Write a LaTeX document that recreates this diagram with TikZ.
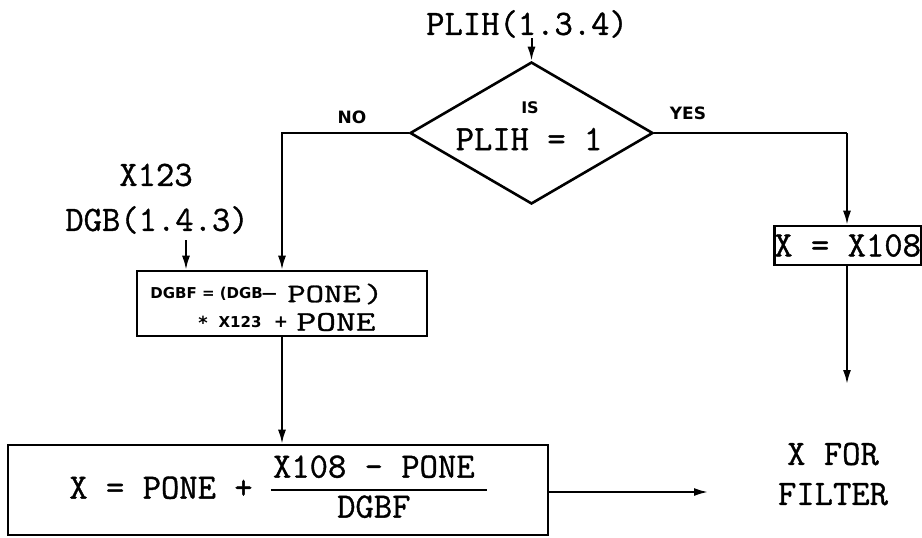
\documentclass[tikz,border=0pt]{standalone}
\usepackage{fontspec}
\usepackage{graphicx}
\usetikzlibrary{shapes.geometric,arrows.meta}
\newfontfamily\tw{Latin Modern Mono}[FakeBold=1]
\newfontfamily\lab{DejaVu Sans}
\tikzset{
  x={(0.5pt,0)}, y={(0,-0.5pt)},
  ln/.style={line width=1pt},
  arr/.style={ln,-{Latex[length=7pt,width=4pt]}},
  boxx/.style={draw,line width=1.3pt,inner sep=0pt},
  tt/.style={font=\tw\fontsize{17.8}{20}\selectfont,inner sep=0pt},
  lbl/.style={font=\lab\bfseries\fontsize{8.5}{10}\selectfont,inner sep=0pt},
  sml/.style={font=\lab\bfseries\fontsize{7}{8}\selectfont,inner sep=0pt},
}
\begin{document}
\begin{tikzpicture}
\clip (0,0) rectangle (922,537);
\fill[white] (0,0) rectangle (922,537);
% nodes
\node[tt] (plih) at (527,24) {PLIH(1.3.4)};
\node[draw,line width=1.3pt,shape=diamond,minimum width=121.5pt,minimum height=71pt,inner sep=0pt] (d) at (531.5,133) {};
\node[sml,font=\lab\bfseries\fontsize{8}{9}\selectfont] (is) at (530,108) {IS};
\node[tt] (cond) at (529,139) {PLIH = 1};
\node[lbl] (no) at (352,117) {NO};
\node[lbl] (yes) at (688,113) {YES};
\node[tt] (x123) at (156,175) {X123};
\node[tt] (dgb) at (157,220) {DGB(1.4.3)};
\node[boxx,minimum width=145pt,minimum height=32.5pt] (dgbf) at (282,303.5) {};
\node[sml,anchor=west,font=\lab\bfseries\fontsize{7.5}{8}\selectfont] (l1a) at (150,294) {DGBF = (DGB\kern-0.5pt—};
\node[tt,anchor=west] (l1b) at (287,294) {\scalebox{1}[0.75]{PONE\kern2pt)}};
\node[sml,font=\lab\bfseries\fontsize{9}{10}\selectfont] (l2s) at (203,323) {*};
\node[sml,font=\lab\bfseries\fontsize{7.5}{9}\selectfont] (l2x) at (240,322) {X123};
\node[sml,font=\lab\bfseries\fontsize{8.5}{10}\selectfont] (l2p) at (281,322) {+};
\node[tt,anchor=west] (l2b) at (296,322) {\scalebox{1.08}[0.8]{PONE}};
\node[boxx,minimum width=270pt,minimum height=45pt,tt] (calc) at (278,490)
  {X = PONE + $\vcenter{\hbox{\renewcommand\arraystretch{0.95}\setlength\arrayrulewidth{1pt}%
     \begin{tabular}{@{\kern1pt}c@{\kern6pt}}\tw X108 - PONE\\\hline\tw DGBF\end{tabular}}}$};
\node[boxx,anchor=west,minimum height=19.5pt,inner xsep=3.5pt,tt] (x108) at (773,245.5) {X = X108};
\node[tt,align=center] (xfor) at (833,474) {X FOR\\FILTER};
\coordinate (yc) at (847,133);
\coordinate (xend) at (847,384);
\coordinate (dgbin) at (186,0);
\coordinate (outend) at (708,492);
% connectors
\draw[arr] (d.north |- plih.south) -- (d.north);
\draw[arr] (d.west) -| (dgbf.north);
\draw[ln] (d.east) -- (yc);
\draw[arr] (yc) -- (yc |- x108.north);
\draw[arr] (yc |- x108.south) -- (xend);
\draw[arr] (dgbin |- dgb.south) ++(0,6) -- (dgbin |- dgbf.north);
\draw[arr] (dgbf.south) -- (dgbf.south |- calc.north);
\draw[arr] (calc.east |- outend) -- (outend);
\end{tikzpicture}
\end{document}
